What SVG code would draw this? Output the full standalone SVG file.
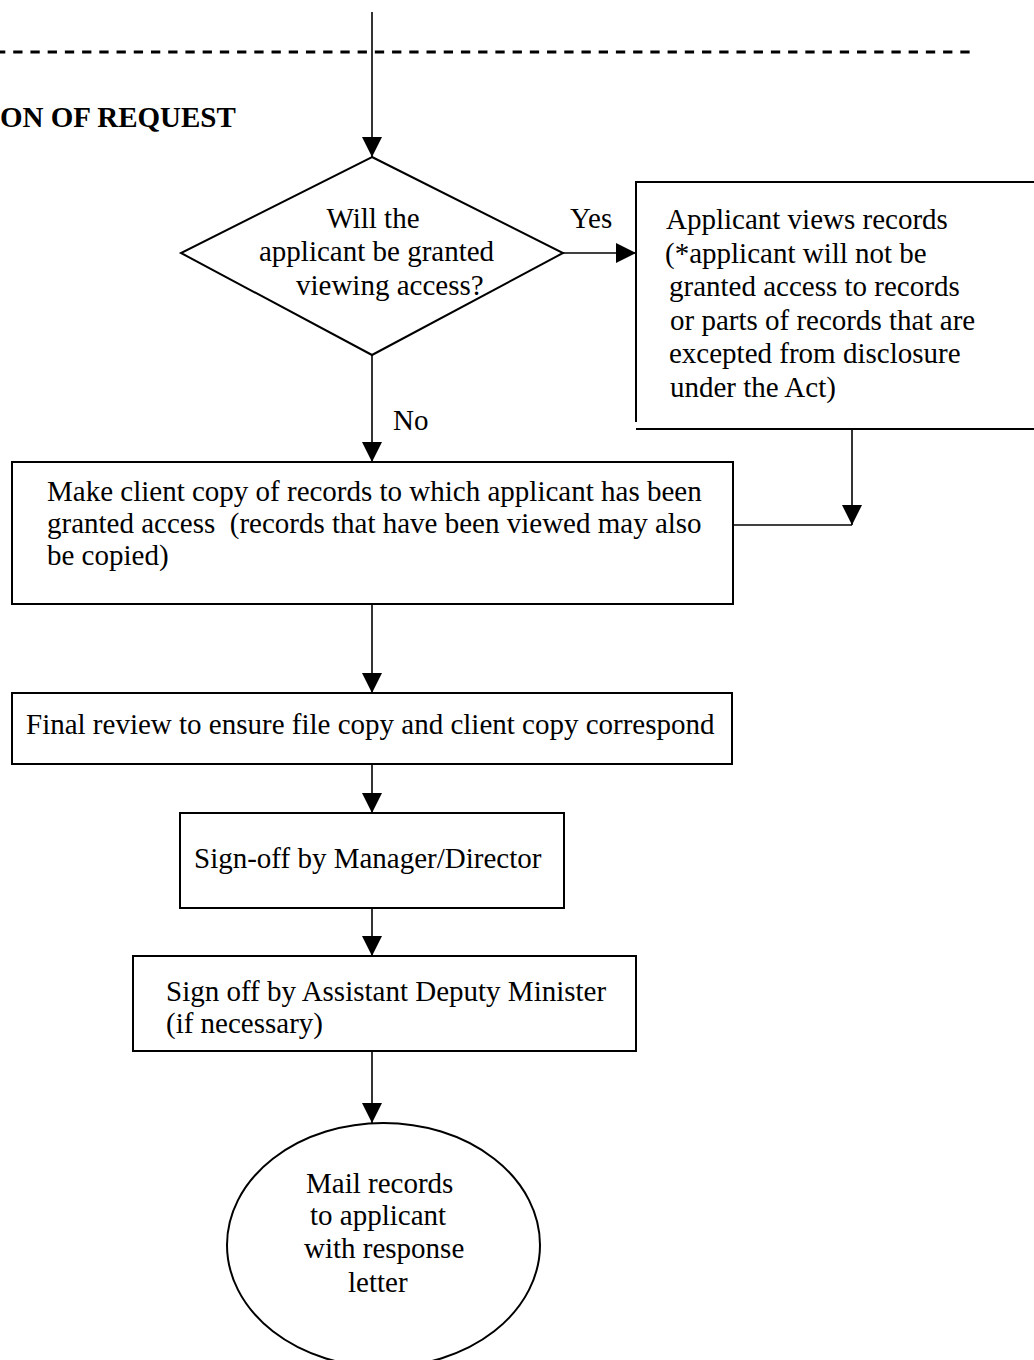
<svg xmlns="http://www.w3.org/2000/svg" width="1034" height="1360" viewBox="0 0 1034 1360">
<style>
text{font-family:"Liberation Serif","Times New Roman",serif;font-size:29px;fill:#000}
.b{font-weight:bold}
.shape{fill:#fff;stroke:#000;stroke-width:2}
.edge{fill:none;stroke:#000;stroke-width:1.6}
</style>
<defs>
<marker id="ah" viewBox="0 0 20 20" refX="20" refY="10" markerWidth="20" markerHeight="20" markerUnits="userSpaceOnUse" orient="auto">
<path d="M0,0 L20,10 L0,20 z" fill="#000"/>
</marker>
</defs>
<rect width="1034" height="1360" fill="#fff"/>
<line x1="0" y1="52" x2="970" y2="52" stroke="#000" stroke-width="3" stroke-dasharray="9.3 7.92" stroke-dashoffset="4"/>
<text class="b" x="0" y="127">ON OF REQUEST</text>
<g id="connectors">
<line class="edge" x1="372" y1="12" x2="372" y2="157" marker-end="url(#ah)"/>
<line class="edge" x1="563" y1="253" x2="636" y2="253" marker-end="url(#ah)"/>
<line class="edge" x1="372" y1="355" x2="372" y2="462" marker-end="url(#ah)"/>
<line class="edge" x1="852" y1="429" x2="852" y2="525" marker-end="url(#ah)"/>
<line class="edge" x1="733" y1="525" x2="852" y2="525"/>
<line class="edge" x1="372" y1="604" x2="372" y2="693" marker-end="url(#ah)"/>
<line class="edge" x1="372" y1="764" x2="372" y2="813" marker-end="url(#ah)"/>
<line class="edge" x1="372" y1="908" x2="372" y2="956" marker-end="url(#ah)"/>
<line class="edge" x1="372" y1="1051" x2="372" y2="1123" marker-end="url(#ah)"/>
<text x="570" y="228">Yes</text>
<text x="393" y="430">No</text>
</g>
<g id="decision">
<polygon class="shape" points="372,157 563,253 372,355 181,253"/>
<text x="373" y="228" text-anchor="middle">Will the</text>
<text x="259" y="261">applicant be granted</text>
<text x="296" y="295">viewing access?</text>
</g>
<g id="view">
<path class="shape" d="M1040,182 H636 V422"/>
<line x1="636" y1="429" x2="1040" y2="429" stroke="#000" stroke-width="2"/>
<text x="666" y="229">Applicant views records</text>
<text x="665" y="262.5">(*applicant will not be</text>
<text x="669" y="296">granted access to records</text>
<text x="670" y="329.5">or parts of records that are</text>
<text x="669" y="363">excepted from disclosure</text>
<text x="670" y="396.5">under the Act)</text>
</g>
<g id="copy">
<rect class="shape" x="12" y="462" width="721" height="142"/>
<text x="47" y="501">Make client copy of records to which applicant has been</text>
<text x="47" y="533" xml:space="preserve">granted access  (records that have been viewed may also</text>
<text x="47" y="565">be copied)</text>
</g>
<g id="review">
<rect class="shape" x="12" y="693" width="720" height="71"/>
<text x="26" y="734">Final review to ensure file copy and client copy correspond</text>
</g>
<g id="signoff">
<rect class="shape" x="180" y="813" width="384" height="95"/>
<text x="194" y="868">Sign-off by Manager/Director</text>
</g>
<g id="adm">
<rect class="shape" x="133" y="956" width="503" height="95"/>
<text x="166" y="1001">Sign off by Assistant Deputy Minister</text>
<text x="166" y="1033">(if necessary)</text>
</g>
<g id="mail">
<ellipse class="shape" cx="383.5" cy="1245" rx="156.5" ry="122"/>
<text x="306" y="1193">Mail records</text>
<text x="310" y="1225">to applicant</text>
<text x="304" y="1258">with response</text>
<text x="348" y="1292">letter</text>
</g>
</svg>
